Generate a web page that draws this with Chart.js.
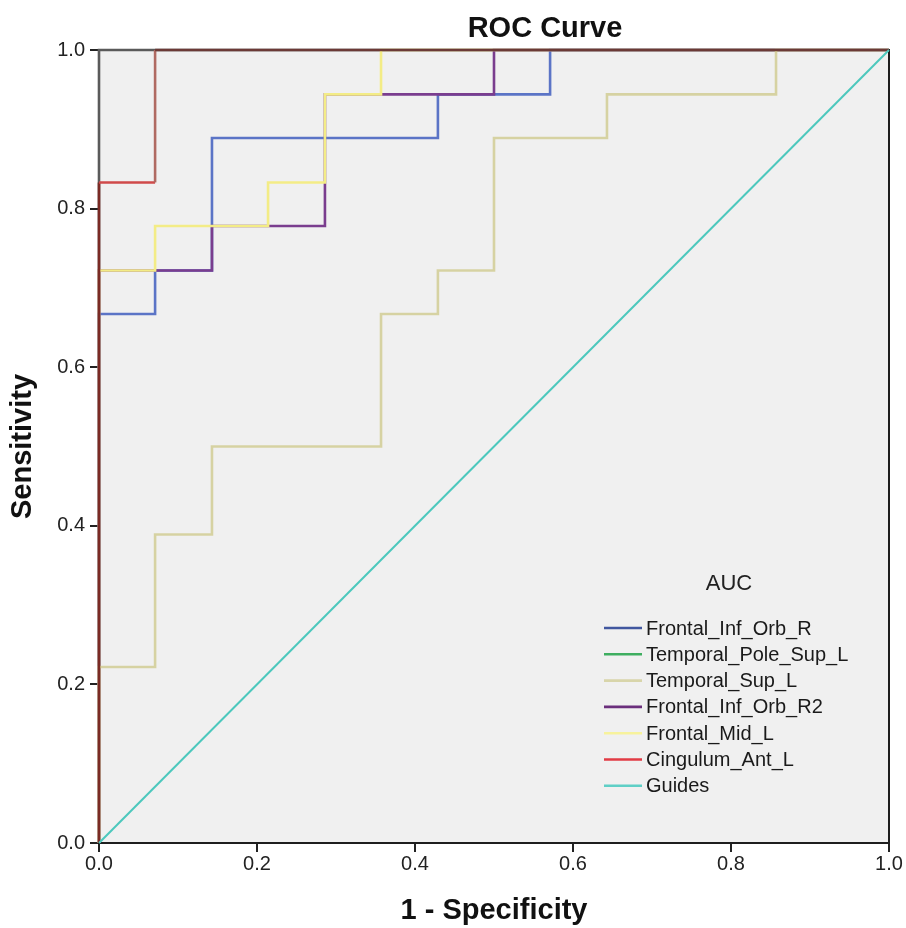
<!DOCTYPE html>
<html>
<head>
<meta charset="utf-8">
<script src="https://cdn.jsdelivr.net/npm/chart.js@4.4.0/dist/chart.umd.min.js"></script>
<style>
  html, body { margin: 0; padding: 0; background: #ffffff; }
  #wrap { width: 906px; height: 928px; position: relative; }
</style>
</head>
<body>
<div id="wrap"><canvas id="c" width="906" height="928"></canvas></div>
<script>
// ---- Data ----
const seriesNames = ['Frontal_Inf_Orb_R', 'Temporal_Pole_Sup_L', 'Temporal_Sup_L', 'Frontal_Inf_Orb_R2', 'Frontal_Mid_L', 'Cingulum_Ant_L', 'Guides'];

const fprFrontalInfOrbR = [0, 0, 0.071, 0.071, 0.143, 0.143, 0.429, 0.429, 0.571, 0.571, 1];
const tprFrontalInfOrbR = [0, 0.667, 0.667, 0.722, 0.722, 0.889, 0.889, 0.944, 0.944, 1, 1];

const fprTemporalPoleSupL = [0, 0, 1];
const tprTemporalPoleSupL = [0, 1, 1];

const fprTemporalSupL = [0, 0, 0.071, 0.071, 0.143, 0.143, 0.357, 0.357, 0.429, 0.429, 0.5, 0.5, 0.643, 0.643, 0.857, 0.857, 1];
const tprTemporalSupL = [0, 0.222, 0.222, 0.389, 0.389, 0.5, 0.5, 0.667, 0.667, 0.722, 0.722, 0.889, 0.889, 0.944, 0.944, 1, 1];

const fprFrontalInfOrbR2 = [0, 0, 0.143, 0.143, 0.286, 0.286, 0.5, 0.5, 1];
const tprFrontalInfOrbR2 = [0, 0.722, 0.722, 0.778, 0.778, 0.944, 0.944, 1, 1];

const fprFrontalMidL = [0, 0, 0.071, 0.071, 0.214, 0.214, 0.286, 0.286, 0.357, 0.357, 1];
const tprFrontalMidL = [0, 0.722, 0.722, 0.778, 0.778, 0.833, 0.833, 0.944, 0.944, 1, 1];

const fprCingulumAntL = [0, 0, 0.071, 0.071, 1];
const tprCingulumAntL = [0, 0.833, 0.833, 1, 1];

const fprGuides = [0, 1];
const tprGuides = [0, 1];

const axisTicks = [0, 0.2, 0.4, 0.6, 0.8, 1.0];

// ---- Styles ----
const legendColors = ['#41579f', '#3eae60', '#d8d5aa', '#6b2f7c', '#f7f29c', '#e23b45', '#5fcfc6'];
const plotColors   = ['#5b74c6', '#5a5a5a', '#d6d2a2', '#7a3d8e', '#f3ec86', '#d04848', '#4cc8bd'];
const drawOrder    = [6, 7, 4, 5, 3, 2, 1];
const FONT = "'Liberation Sans', Arial, sans-serif";

function pts(xs, ys) { return xs.map((x, i) => ({ x: x, y: ys[i] })); }

const seriesData = [
  pts(fprFrontalInfOrbR, tprFrontalInfOrbR),
  pts(fprTemporalPoleSupL, tprTemporalPoleSupL),
  pts(fprTemporalSupL, tprTemporalSupL),
  pts(fprFrontalInfOrbR2, tprFrontalInfOrbR2),
  pts(fprFrontalMidL, tprFrontalMidL),
  pts(fprCingulumAntL, tprCingulumAntL),
  pts(fprGuides, tprGuides)
];

const cingulumSegColors = ['#7a2a24', '#d04a4a', '#b06a62', '#6b3a36'];

const datasets = seriesNames.map((name, i) => {
  const ds = {
    label: name,
    data: seriesData[i],
    borderColor: plotColors[i],
    backgroundColor: plotColors[i],
    borderWidth: i === 6 ? 2 : 2.6,
    pointRadius: 0,
    pointHoverRadius: 0,
    fill: false,
    tension: 0,
    clip: 6,
    order: drawOrder[i]
  };
  if (name === 'Cingulum_Ant_L') {
    ds.segment = { borderColor: ctx => cingulumSegColors[ctx.p0DataIndex] };
  }
  return ds;
});

// ---- Plugins ----
const plotBackground = {
  id: 'plotBackground',
  beforeDatasetsDraw(chart) {
    const { ctx, chartArea: a } = chart;
    ctx.save();
    ctx.fillStyle = '#f0f0f0';
    ctx.fillRect(a.left, a.top, a.right - a.left, a.bottom - a.top);
    ctx.strokeStyle = '#1e1e1e';
    ctx.lineWidth = 2;
    ctx.strokeRect(a.left, a.top, a.right - a.left, a.bottom - a.top);
    ctx.restore();
  }
};

const chartTitle = {
  id: 'chartTitle',
  afterDraw(chart) {
    const { ctx } = chart;
    ctx.save();
    ctx.fillStyle = '#111';
    ctx.font = "bold 29px " + FONT;
    ctx.textAlign = 'center';
    ctx.textBaseline = 'alphabetic';
    ctx.fillText('ROC Curve', 545, 37);
    ctx.restore();
  }
};

const aucLegend = {
  id: 'aucLegend',
  afterDraw(chart) {
    const { ctx } = chart;
    ctx.save();
    ctx.fillStyle = '#222';
    ctx.font = "22px " + FONT;
    ctx.textAlign = 'center';
    ctx.textBaseline = 'middle';
    ctx.fillText('AUC', 729, 584);
    ctx.font = "20px " + FONT;
    ctx.textAlign = 'left';
    chart.data.datasets.forEach((ds, i) => {
      const y = 628 + i * 26.3;
      ctx.strokeStyle = legendColors[i];
      ctx.lineWidth = 2.6;
      ctx.beginPath();
      ctx.moveTo(604, y);
      ctx.lineTo(642, y);
      ctx.stroke();
      ctx.fillStyle = '#1a1a1a';
      ctx.fillText(ds.label, 646, y + 1);
    });
    ctx.restore();
  }
};

new Chart(document.getElementById('c'), {
  type: 'line',
  data: { datasets: datasets },
  options: {
    responsive: false,
    animation: false,
    events: [],
    layout: { padding: { top: 50, right: 17, left: 0, bottom: 0 } },
    plugins: {
      legend: { display: false },
      title: { display: false },
      tooltip: { enabled: false }
    },
    scales: {
      x: {
        type: 'linear',
        min: 0, max: 1,
        afterBuildTicks(scale) { scale.ticks = axisTicks.map(v => ({ value: v })); },
        afterFit(scale) { scale.height = 85; },
        ticks: {
          callback: v => v.toFixed(1),
          color: '#222',
          font: { family: FONT, size: 20 },
          padding: 0,
          maxRotation: 0,
          autoSkip: false
        },
        grid: { drawOnChartArea: false, drawTicks: true, tickLength: 9, color: '#222', lineWidth: 2 },
        border: { display: true, color: '#222', width: 2 },
        title: {
          display: true,
          text: '1 - Specificity',
          color: '#111',
          font: { family: FONT, size: 29, weight: 'bold', lineHeight: 1.15 },
          padding: { top: 0, bottom: 0 }
        }
      },
      y: {
        type: 'linear',
        min: 0, max: 1,
        afterBuildTicks(scale) { scale.ticks = axisTicks.map(v => ({ value: v })); },
        afterFit(scale) { scale.width = 99; },
        ticks: {
          callback: v => v.toFixed(1),
          color: '#222',
          font: { family: FONT, size: 20 },
          padding: 5
        },
        grid: { drawOnChartArea: false, drawTicks: true, tickLength: 9, color: '#222', lineWidth: 2 },
        border: { display: true, color: '#222', width: 2 },
        title: {
          display: true,
          text: 'Sensitivity',
          color: '#111',
          font: { family: FONT, size: 29, weight: 'bold', lineHeight: 1.15 },
          padding: { top: 6, bottom: 0 }
        }
      }
    }
  },
  plugins: [plotBackground, chartTitle, aucLegend]
});
</script>
</body>
</html>
